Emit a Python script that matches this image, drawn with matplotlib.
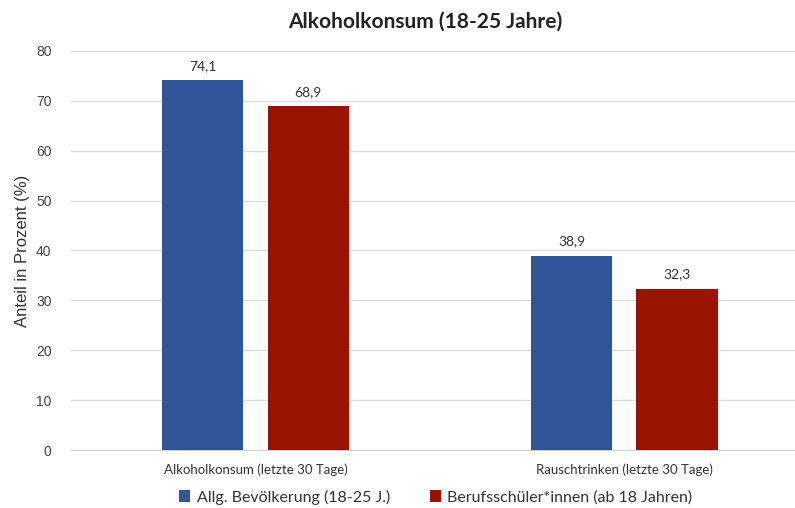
import matplotlib

matplotlib.use("Agg")
import matplotlib.pyplot as plt
import numpy as np

# data
categories = ["Alkoholkonsum (letzte 30 Tage)", "Rauschtrinken (letzte 30 Tage)"]
series_names = ["Allg. Bevölkerung (18-25 J.)", "Berufsschüler*innen (ab 18 Jahren)"]
allg = [74.1, 38.9]
berufs = [68.9, 32.3]
yticks = [0, 10, 20, 30, 40, 50, 60, 70, 80]

BLUE = "#2E5597"
RED = "#981300"
FONT = ["Lato", "DejaVu Sans"]

plt.rcParams["font.family"] = FONT

fig = plt.figure(figsize=(7.95, 5.08), dpi=100)
ax = fig.add_axes([71 / 795, 58 / 508, 724 / 795, 399 / 508])

x = np.arange(len(categories))
width = 0.22
off = 0.143
b1 = ax.bar(x - off, allg, width, color=BLUE, label=series_names[0], zorder=3)
b2 = ax.bar(x + off, berufs, width, color=RED, label=series_names[1], zorder=3)

for bars in (b1, b2):
    for rect in bars:
        h = rect.get_height()
        ax.annotate(f"{h:.1f}".replace(".", ","),
                    (rect.get_x() + rect.get_width() / 2, h),
                    xytext=(0, 6), textcoords="offset points",
                    ha="center", va="bottom", fontsize=10, color="#333333")

ax.set_xlim(-0.5, 1.463)
ax.set_ylim(0, 80)
ax.set_yticks(yticks)
ax.set_yticklabels([str(t) for t in yticks], fontsize=10, color="#444444",
                   family=["Liberation Sans", "DejaVu Sans"])
ax.set_xticks(x)
ax.set_xticklabels(categories, fontsize=9.5, color="#333333")
ax.tick_params(axis="both", length=0)
ax.tick_params(axis="x", pad=10)
ax.tick_params(axis="y", pad=14)
ax.yaxis.grid(True, color="#d9d9d9", linewidth=0.9, zorder=0)
for side in ("top", "right", "left"):
    ax.spines[side].set_visible(False)
ax.spines["bottom"].set_color("#cfcfcf")
ax.set_ylabel("Anteil in Prozent (%)", fontsize=12, color="#333333",
              family=["Liberation Sans", "DejaVu Sans"], labelpad=4)

fig.text(0.535, 1 - 22 / 508, "Alkoholkonsum (18-25 Jahre)", ha="center",
         va="center", fontsize=15, fontweight="bold", color="#222222")

fig.legend(loc="center", bbox_to_anchor=(0.548, 1 - 497 / 508), ncol=2,
           frameon=False, fontsize=11.5, handlelength=0.7, handleheight=0.7,
           handletextpad=0.4, columnspacing=2.5, labelcolor="#333333")

fig.savefig("out.png", dpi=100, facecolor="white")
